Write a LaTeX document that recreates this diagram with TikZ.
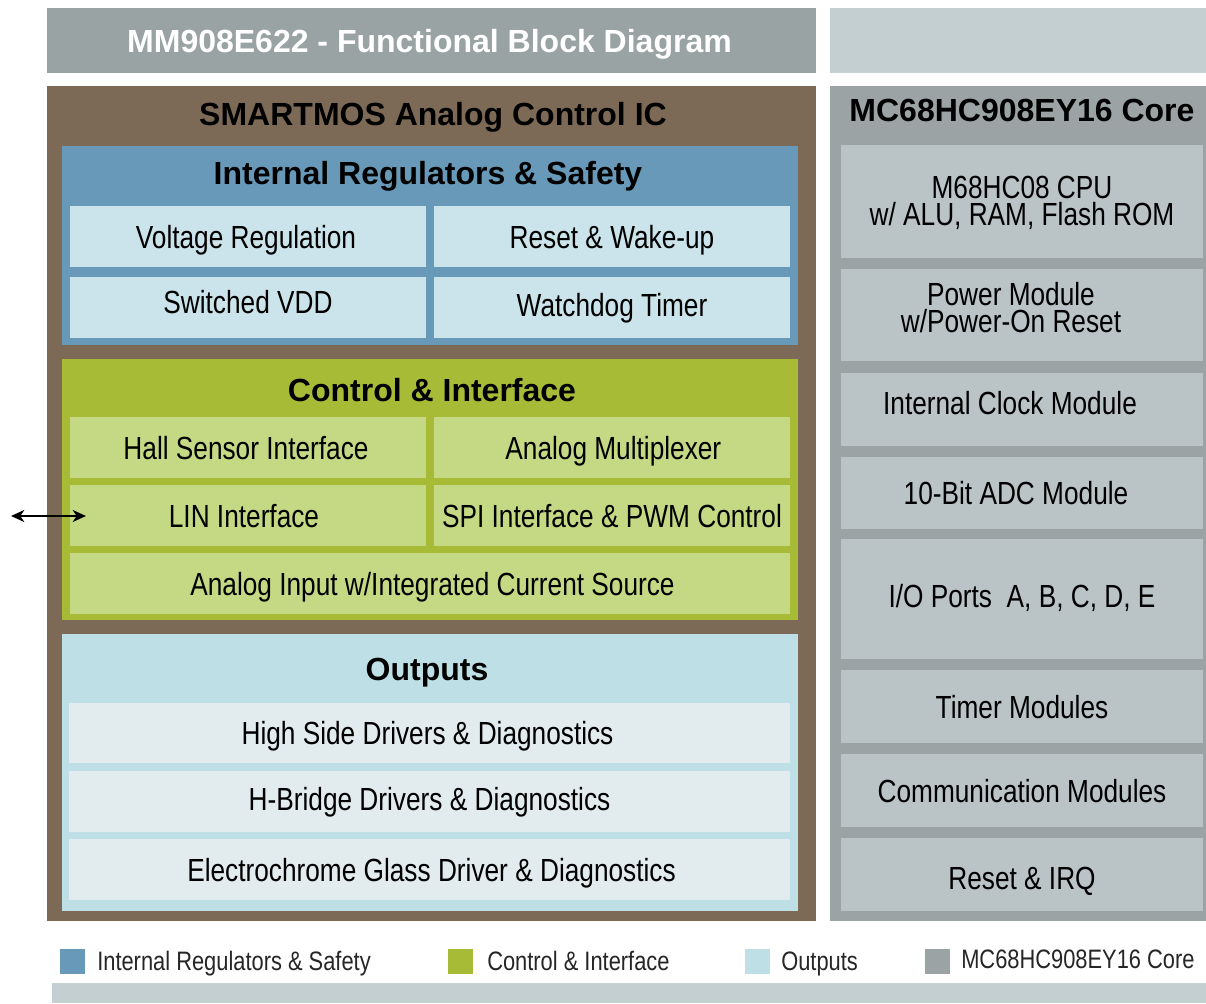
\documentclass[tikz,border=0pt]{standalone}
\usepackage{fontspec}
\setmainfont{Liberation Sans}
\newfontfamily\narrowf[FakeStretch=0.82]{Liberation Sans}
\usetikzlibrary{arrows.meta}
\definecolor{titlegray}{HTML}{9AA3A4}
\definecolor{palebar}{HTML}{C4CFD1}
\definecolor{brownbg}{HTML}{7D6A56}
\definecolor{regblue}{HTML}{6899B8}
\definecolor{reginner}{HTML}{CBE3EA}
\definecolor{ctrlgreen}{HTML}{A8BB37}
\definecolor{ctrlinner}{HTML}{C5D985}
\definecolor{outblue}{HTML}{BEDFE5}
\definecolor{outinner}{HTML}{E2EBED}
\definecolor{coregray}{HTML}{9BA3A5}
\definecolor{coreinner}{HTML}{BAC3C6}
\tikzset{
  rect/.style args={#1/#2/#3/#4}{minimum width={(#3-#1)*0.75pt}, minimum height={(#4-#2)*0.75pt}, at={({(#1+#3)/2},{(#2+#4)/2})}},
  blk/.style={inner sep=0pt, outer sep=0pt, draw=none},
  ibox/.style={blk, font=\narrowf\fontsize{24}{20.3}\selectfont, align=center, text depth=0pt},
  hdr/.style={inner sep=0pt, text depth=0pt, font=\bfseries\fontsize{24}{28}\selectfont},
  legtxt/.style={inner sep=0pt, anchor=west, text depth=0pt, font=\narrowf\fontsize{20}{24}\selectfont, text=black!85},
  linarrow/.style={line width=1.3pt, {Stealth[length=10pt,width=9pt,inset=3pt]}-{Stealth[length=10pt,width=9pt,inset=3pt]}}
}
\begin{document}
\begin{tikzpicture}[x=0.75pt,y=-0.75pt]
\useasboundingbox (0,0) rectangle (1206,1003);
\fill[white] (0,0) rectangle (1206,1003);

% top bars
\node[blk, fill=titlegray, rect=47/8/816/73, text=white, text depth=0pt, font=\bfseries\fontsize{24}{28}\selectfont] (title) {MM908E622 - Functional Block Diagram\hspace*{3pt}};
\node[blk, fill=palebar, rect=830/8/1206/73] (topright) {};

% SMARTMOS container
\node[blk, fill=brownbg, rect=47/86/816/921] (smart) {};
\node[hdr] (smarthdr) at (433,114) {SMARTMOS Analog Control IC};

% Internal Regulators & Safety
\node[blk, fill=regblue, rect=62/146/798/345] (reg) {};
\node[hdr] (reghdr) at (428,173) {Internal Regulators \& Safety};
\node[ibox, fill=reginner, rect=70/206/426/267] (vreg) {Voltage Regulation\hspace*{3pt}};
\node[ibox, fill=reginner, rect=434/206/790/267] (rst) {Reset \& Wake-up};
\node[ibox, fill=reginner, rect=70/277/426/338, text depth=8.2pt] (svdd) {Switched VDD};
\node[ibox, fill=reginner, rect=434/277/790/338, text depth=3.8pt] (wdt) {Watchdog Timer};

% Control & Interface
\node[blk, fill=ctrlgreen, rect=62/359/798/620] (ctrl) {};
\node[hdr] (ctrlhdr) at (432,390) {Control \& Interface};
\node[ibox, fill=ctrlinner, rect=70/417/426/478] (hall) {Hall Sensor Interface\hspace*{3pt}};
\node[ibox, fill=ctrlinner, rect=434/417/790/478] (amux) {\hspace*{2pt}Analog Multiplexer};
\node[ibox, fill=ctrlinner, rect=70/485/426/546] (lin) {LIN Interface\hspace*{6pt}};
\node[ibox, fill=ctrlinner, rect=434/485/790/546] (spi) {SPI Interface \& PWM Control};
\node[ibox, fill=ctrlinner, rect=70/553/790/614] (ain) {\hspace*{3.75pt}Analog Input w/Integrated Current Source};

% Outputs
\node[blk, fill=outblue, rect=62/634/798/911] (outs) {};
\node[hdr] (outhdr) at (427,669) {Outputs};
\node[ibox, fill=outinner, rect=69/703/790/763] (hsd) {High Side Drivers \& Diagnostics\hspace*{3pt}};
\node[ibox, fill=outinner, rect=69/771/790/832, text depth=3.8pt] (hbr) {H-Bridge Drivers \& Diagnostics};
\node[ibox, fill=outinner, rect=69/839/790/900] (ecg) {\hspace*{3pt}Electrochrome Glass Driver \& Diagnostics};

% LIN arrow
\coordinate (linext) at (11,516);
\coordinate (linin) at (86,516);
\draw[linarrow] (linext) -- (linin);

% Core
\node[blk, fill=coregray, rect=830/86/1206/921] (core) {};
\node[hdr] (corehdr) at (1022,110) {MC68HC908EY16 Core};
\node[ibox, fill=coreinner, rect=841/145/1203/258, text depth=1.5pt] (cpu) {M68HC08 CPU\\w/ ALU, RAM, Flash ROM};
\node[ibox, fill=coreinner, rect=841/269/1203/361, text depth=11.2pt] (pwr) {Power Module\hspace*{16.5pt}\\w/Power-On Reset\hspace*{16.5pt}};
\node[ibox, fill=coreinner, rect=841/373/1203/446, text depth=9.8pt] (clk) {Internal Clock Module\hspace*{18pt}};
\node[ibox, fill=coreinner, rect=841/457/1203/529] (adc) {10-Bit ADC Module\hspace*{9pt}};
\node[ibox, fill=coreinner, rect=841/539/1203/659, text depth=4.5pt] (io) {I/O Ports\ \ A, B, C, D, E};
\node[ibox, fill=coreinner, rect=841/670/1203/743] (tim) {Timer Modules};
\node[ibox, fill=coreinner, rect=841/754/1203/827] (com) {Communication Modules};
\node[ibox, fill=coreinner, rect=841/838/1203/911, text height=22.7pt] (irq) {Reset \& IRQ};

% Legend
\node[blk, fill=regblue, rect=60/949/85/974] (lgreg) {};
\node[legtxt] (lgregt) at (97,961) {Internal Regulators \& Safety};
\node[blk, fill=ctrlgreen, rect=448/949/473/974] (lgctrl) {};
\node[legtxt] (lgctrlt) at (487,961) {Control \& Interface};
\node[blk, fill=outblue, rect=745/949/770/974] (lgout) {};
\node[legtxt] (lgoutt) at (781,961) {Outputs};
\node[blk, fill=coregray, rect=925/949/950/974] (lgcore) {};
\node[legtxt] (lgcoret) at (961,959) {MC68HC908EY16 Core};

% bottom bar
\node[blk, fill=palebar, rect=52/983/1206/1003] (bottombar) {};
\end{tikzpicture}
\end{document}
